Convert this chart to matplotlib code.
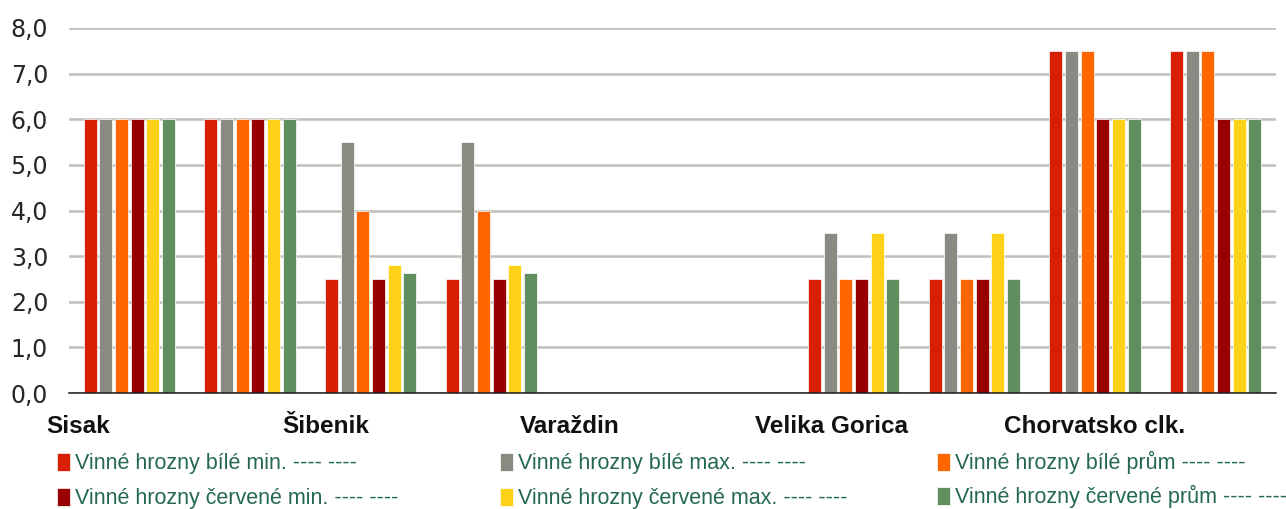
import matplotlib
matplotlib.use("Agg")
import matplotlib.pyplot as plt
import matplotlib.transforms as mtransforms
import numpy as np

# ---- data ----
categories = ["Sisak", "", "Šibenik", "", "Varaždin", "", "Velika Gorica", "", "Chorvatsko clk.", ""]
label_names = ["Sisak", "Šibenik", "Varaždin", "Velika Gorica", "Chorvatsko clk."]
series_names = [
    "Vinné hrozny bílé min. ---- ----",
    "Vinné hrozny bílé max. ---- ----",
    "Vinné hrozny bílé prům ---- ----",
    "Vinné hrozny červené min. ---- ----",
    "Vinné hrozny červené max. ---- ----",
    "Vinné hrozny červené prům ---- ----",
]
bile_min = [6.0, 6.0, 2.5, 2.5, np.nan, np.nan, 2.5, 2.5, 7.5, 7.5]
bile_max = [6.0, 6.0, 5.5, 5.5, np.nan, np.nan, 3.5, 3.5, 7.5, 7.5]
bile_prum = [6.0, 6.0, 4.0, 4.0, np.nan, np.nan, 2.5, 2.5, 7.5, 7.5]
cervene_min = [6.0, 6.0, 2.5, 2.5, np.nan, np.nan, 2.5, 2.5, 6.0, 6.0]
cervene_max = [6.0, 6.0, 2.8, 2.8, np.nan, np.nan, 3.5, 3.5, 6.0, 6.0]
cervene_prum = [6.0, 6.0, 2.63, 2.63, np.nan, np.nan, 2.5, 2.5, 6.0, 6.0]
yticks = [0, 1, 2, 3, 4, 5, 6, 7, 8]

series = [bile_min, bile_max, bile_prum, cervene_min, cervene_max, cervene_prum]
colors = ["#D81E05", "#8A8A82", "#FF6600", "#990000", "#FCD116", "#5F8F5F"]

# ---- layout ----
W, H = 1286, 509
fig = plt.figure(figsize=(W / 100, H / 100), dpi=100)
ax = fig.add_axes([69 / W, (H - 393) / H, (1276 - 69) / W, (393 - 28) / H])

x = np.arange(len(categories))
pitch = 0.1298
width = 0.108
handles = []
for j, (vals, col) in enumerate(zip(series, colors)):
    b = ax.bar(x + (j - 2.5) * pitch, vals, width, color=col,
               edgecolor="white", linewidth=0.5, zorder=3)
    handles.append(b)

ax.set_xlim(-0.5, len(categories) - 0.5)
ax.set_ylim(0, 8)
ax.set_yticks(yticks)
ax.set_yticklabels([f"{v:.1f}".replace(".", ",") for v in yticks],
                   fontsize=17, color="#262626", family="DejaVu Sans")
ax.tick_params(axis="y", length=0, pad=15)
ax.set_xticks([])
ax.grid(axis="y", color="#BFBFBA", linewidth=1.8, zorder=0)
for s in ["top", "right", "left"]:
    ax.spines[s].set_visible(False)
ax.spines["bottom"].set_color("#1a1a1a")
ax.spines["bottom"].set_linewidth(1.1)
ax.spines["bottom"].set_zorder(4)

# category labels (every other category)
label_x = [-0.42, 1.63, 3.65, 5.82, 8.0]
trans = mtransforms.blended_transform_factory(ax.transData, ax.transAxes)
for lx, name in zip(label_x, label_names):
    ax.text(lx, -0.093, name, transform=trans, ha="center", va="center",
            fontsize=17.5, fontweight="bold", color="#111111",
            family=["Liberation Sans", "DejaVu Sans"])

# legend: three columns of two rows
col_x = [57, 500, 937]
col_top = [453, 453, 451]
col_spacing = [0.62, 0.62, 0.5]
for c in range(3):
    hs = [handles[c], handles[c + 3]]
    ls = [series_names[c], series_names[c + 3]]
    leg = fig.legend(hs, ls, loc="upper left",
                     bbox_to_anchor=(col_x[c] / W, (H - col_top[c]) / H),
                     frameon=False, handlelength=0.6, handleheight=0.9,
                     handletextpad=0.25, labelspacing=col_spacing[c], borderpad=0,
                     borderaxespad=0,
                     prop={"family": ["Liberation Sans", "DejaVu Sans"], "size": 15.5})
    for t in leg.get_texts():
        t.set_color("#24694F")

fig.savefig("out.png", dpi=100)
